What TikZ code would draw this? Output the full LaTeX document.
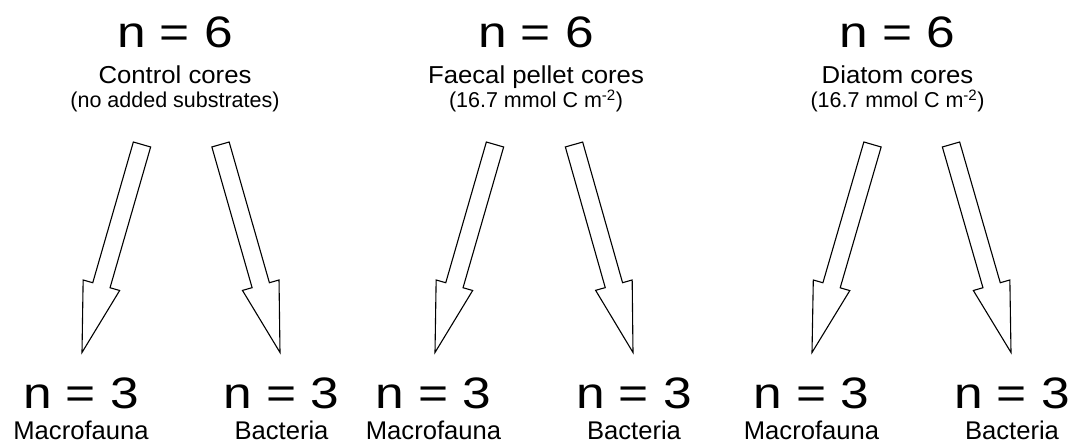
\documentclass[tikz,border=0pt]{standalone}
\usepackage{fontspec}
\setmainfont{Liberation Sans}
\newfontfamily\countfont[FakeStretch=1.17]{Liberation Sans}
\newfontfamily\titlefont[FakeStretch=1.05]{Liberation Sans}
\usetikzlibrary{calc}

% block arrow from a tail coordinate to a tip coordinate
\newcommand{\corearrow}[2]{%
  \coordinate (#1base) at ($(#2)!70pt!(#1)$);
  \draw[blockarrow] ($(#1)!9pt!90:(#2)$) -- ($(#1base)!9pt!90:(#2)$)
    -- ($(#1base)!19pt!90:(#2)$) -- (#2) -- ($(#1base)!19pt!-90:(#2)$)
    -- ($(#1base)!9pt!-90:(#2)$) -- ($(#1)!9pt!-90:(#2)$) -- cycle;}

\begin{document}
\begin{tikzpicture}[x=1pt,y=-1pt,
    count/.style={font=\countfont\fontsize{44}{44}\selectfont, anchor=base, inner sep=0pt},
    title/.style={font=\titlefont\fontsize{24.5}{24.5}\selectfont, anchor=base, inner sep=0pt},
    subtitle/.style={font=\fontsize{21.5}{21.5}\selectfont, anchor=base, inner sep=0pt},
    group/.style={font=\fontsize{25.6}{25.6}\selectfont, anchor=base, inner sep=0pt},
    blockarrow/.style={draw=black, line width=1.1pt, line join=miter, fill=white}]
	\useasboundingbox (0,0) rectangle (1073,443);
	
	% treatments
	\node[count] (ctrl) at (175,48) {n = 6};
	\node[title] (ctrl title) at (175,83.5) {Control cores};
	\node[subtitle] (ctrl sub) at (175,108) {(no added substrates)};
	
	\node[count] (fp) at (536,48) {n = 6};
	\node[title] (fp title) at (536,83.5) {Faecal pellet cores};
	\node[subtitle] (fp sub) at (536,108) {(16.7 mmol C m\textsuperscript{-2})};
	
	\node[count] (diat) at (897.5,48) {n = 6};
	\node[title] (diat title) at (897.5,83.5) {Diatom cores};
	\node[subtitle] (diat sub) at (897.5,108) {(16.7 mmol C m\textsuperscript{-2})};
	
	% arrows
	\coordinate (ctrl-mf-t) at (142,144.5);  \coordinate (ctrl-mf-p) at (82,352.5);
	\coordinate (ctrl-ba-t) at (220.5,144.5); \coordinate (ctrl-ba-p) at (280,352.5);
	\coordinate (fp-mf-t) at (495,144.5);    \coordinate (fp-mf-p) at (435,352.5);
	\coordinate (fp-ba-t) at (574,144.5);    \coordinate (fp-ba-p) at (633,352.5);
	\coordinate (diat-mf-t) at (872.5,144.5); \coordinate (diat-mf-p) at (812,352.5);
	\coordinate (diat-ba-t) at (951,144.5);  \coordinate (diat-ba-p) at (1011,352.5);
	
	\corearrow{ctrl-mf-t}{ctrl-mf-p}
	\corearrow{ctrl-ba-t}{ctrl-ba-p}
	\corearrow{fp-mf-t}{fp-mf-p}
	\corearrow{fp-ba-t}{fp-ba-p}
	\corearrow{diat-mf-t}{diat-mf-p}
	\corearrow{diat-ba-t}{diat-ba-p}
	
	% sub-samples
	\node[count] (ctrl mf) at (81,408.5) {n = 3};
	\node[group] (ctrl mf name) at (81,439.5) {Macrofauna};
	\node[count] (ctrl ba) at (281.5,408.5) {n = 3};
	\node[group] (ctrl ba name) at (281.5,439.5) {Bacteria};
	
	\node[count] (fp mf) at (433.5,408.5) {n = 3};
	\node[group] (fp mf name) at (433.5,439.5) {Macrofauna};
	\node[count] (fp ba) at (634,408.5) {n = 3};
	\node[group] (fp ba name) at (634,439.5) {Bacteria};
	
	\node[count] (diat mf) at (811.5,408.5) {n = 3};
	\node[group] (diat mf name) at (811.5,439.5) {Macrofauna};
	\node[count] (diat ba) at (1012,408.5) {n = 3};
	\node[group] (diat ba name) at (1012,439.5) {Bacteria};
\end{tikzpicture}
\end{document}
